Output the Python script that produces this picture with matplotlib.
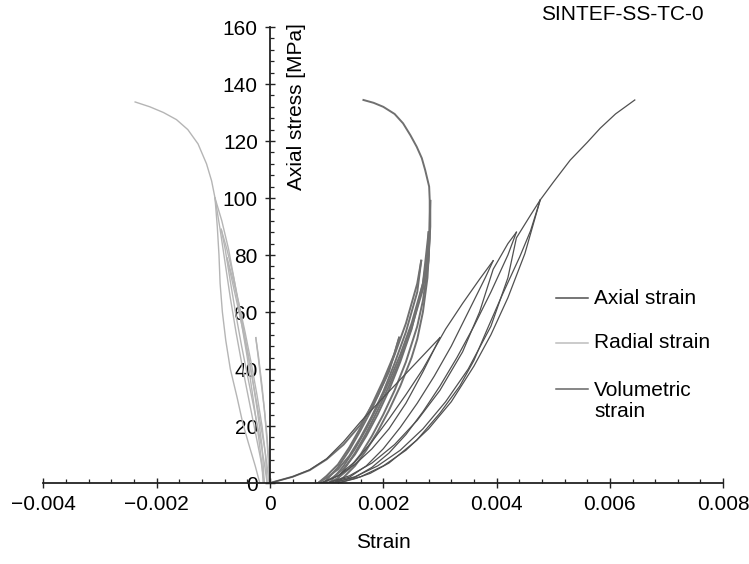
import matplotlib
matplotlib.use('Agg')
import matplotlib.pyplot as plt
from matplotlib.lines import Line2D
from matplotlib.ticker import MultipleLocator

plt.rcParams['font.family'] = ['Liberation Sans', 'DejaVu Sans']

# ---- data: (strain, axial stress MPa) ----
# axial strain, loading / unloading cycles
axial_load1 = [(0, 0), (0.0004, 2.2), (0.0007, 4.6), (0.001, 8.5), (0.0013, 14.5), (0.0016, 21.5),
               (0.002, 30), (0.0025, 40.5), (0.003, 51)]
axial_unload1 = [(0.003, 51), (0.0029, 47), (0.0027, 40), (0.0024, 31), (0.0021, 22.5), (0.0018, 14.5),
                 (0.0015, 7.5), (0.0012, 2.5), (0.0009, 0)]
axial_load2 = [(0.0009, 0), (0.0012, 2.5), (0.0015, 6.5), (0.0018, 12), (0.0021, 19), (0.0024, 28),
               (0.0027, 39), (0.0029, 47), (0.0031, 54), (0.0034, 63), (0.0037, 71.5), (0.00394, 78)]
axial_unload2 = [(0.00394, 78), (0.0038, 72), (0.0035, 60), (0.0032, 48), (0.0029, 37.5), (0.0026, 28),
                 (0.0023, 19.5), (0.002, 12), (0.0017, 6), (0.0014, 2), (0.001, 0)]
axial_load3 = [(0.001, 0), (0.0014, 2.5), (0.0018, 7), (0.0022, 13.5), (0.0026, 22), (0.003, 32.5),
               (0.0034, 46), (0.0037, 60), (0.00394, 75), (0.0042, 84), (0.00435, 88)]
axial_unload3 = [(0.00435, 88), (0.0042, 80), (0.0039, 67), (0.0036, 55), (0.0033, 44), (0.003, 34),
                 (0.0027, 25), (0.0024, 17), (0.0021, 10.5), (0.0018, 5.5), (0.0015, 2), (0.0011, 0)]
axial_load4 = [(0.0011, 0), (0.0015, 2.2), (0.0019, 6), (0.0023, 11.5), (0.0027, 19), (0.0031, 28.5),
               (0.0035, 40), (0.0039, 55), (0.0042, 72), (0.00435, 86), (0.0046, 94), (0.00477, 99.3)]
axial_unload4 = [(0.00477, 99.3), (0.0046, 88.5), (0.00441, 79.4), (0.0041, 66), (0.00383, 53.7),
                 (0.0036, 43), (0.00335, 34), (0.003, 24.5), (0.00259, 15), (0.0021, 7),
                 (0.00177, 3.4), (0.0015, 1.5), (0.0012, 0)]
axial_final = [(0.0012, 0), (0.0016, 2.2), (0.002, 6), (0.0024, 11.5), (0.0028, 19), (0.0032, 28.5),
               (0.0036, 41), (0.0039, 52), (0.0042, 65), (0.0045, 80.5), (0.00477, 99.3),
               (0.005, 105.5), (0.0053, 113.3), (0.0056, 119.5), (0.00583, 124.5), (0.0061, 129.5),
               (0.00644, 134.4)]

# radial strain
radial_load1 = [(0, 0), (-0.00002, 8), (-0.00005, 16), (-0.0001, 26), (-0.00016, 36), (-0.0002, 43),
                (-0.00025, 51)]
radial_unload1 = [(-0.00025, 51), (-0.0002, 44), (-0.00014, 34), (-0.00009, 24), (-0.00005, 14),
                  (-0.00002, 5), (-0.00002, 0)]
radial_load2 = [(-0.00002, 0), (-0.00005, 6), (-0.0001, 13), (-0.00017, 21), (-0.00026, 31),
                (-0.00036, 42), (-0.00047, 53), (-0.00058, 63), (-0.00068, 72), (-0.00076, 79)]
radial_unload2 = [(-0.00076, 79), (-0.00066, 72), (-0.00055, 63), (-0.00044, 53), (-0.00033, 42),
                  (-0.00023, 31), (-0.00014, 20), (-0.00008, 10), (-0.00005, 0)]
radial_load3 = [(-0.00005, 0), (-0.0001, 7), (-0.00017, 15), (-0.00027, 25), (-0.00038, 36),
                (-0.0005, 48), (-0.00061, 60), (-0.00071, 72), (-0.00079, 82), (-0.00086, 89)]
radial_unload3 = [(-0.00086, 89), (-0.00076, 82), (-0.00065, 73), (-0.00054, 62), (-0.00043, 50),
                  (-0.00032, 38), (-0.00022, 25), (-0.00014, 13), (-0.0001, 0)]
radial_load4 = [(-0.0001, 0), (-0.00016, 8), (-0.00025, 17), (-0.00036, 28), (-0.00048, 40),
                (-0.0006, 53), (-0.0007, 65), (-0.00079, 77), (-0.00088, 89), (-0.00097, 100)]
radial_unload4 = [(-0.00097, 100), (-0.00085, 92), (-0.00073, 82), (-0.00062, 70), (-0.00051, 57),
                  (-0.0004, 44), (-0.0003, 30), (-0.0002, 16), (-0.00014, 6), (-0.00012, 0)]
radial_final = [(-0.00018, 0), (-0.00026, 6), (-0.00038, 14), (-0.00048, 21), (-0.00058, 30),
                (-0.0007, 40), (-0.00078, 50), (-0.00084, 60), (-0.00088, 70), (-0.0009, 80),
                (-0.00093, 90), (-0.00097, 100), (-0.00103, 106), (-0.00112, 112), (-0.00127, 119),
                (-0.00145, 124), (-0.00165, 127.5), (-0.00188, 130), (-0.00212, 132), (-0.00238, 133.7)]

# volumetric strain
vol_load1 = [(0, 0), (0.0004, 2.2), (0.0007, 4.5), (0.001, 8.3), (0.0013, 13.5), (0.0016, 20.5),
             (0.0019, 30.5), (0.0021, 39), (0.00228, 51)]
vol_unload1 = [(0.00228, 51), (0.0022, 45.5), (0.002, 36), (0.0018, 27.5), (0.0016, 19.5), (0.0014, 12.5),
               (0.0012, 6.5), (0.001, 2.5), (0.00085, 0)]
vol_load2 = [(0.00085, 0), (0.001, 1.8), (0.0012, 4.8), (0.0014, 9.5), (0.0016, 16), (0.0018, 23.5),
             (0.002, 32), (0.0022, 42), (0.0024, 53), (0.0026, 67), (0.00267, 78)]
vol_unload2 = [(0.00267, 78), (0.0026, 70), (0.0024, 56), (0.0022, 45), (0.002, 35), (0.0018, 26),
               (0.0016, 18.5), (0.0014, 11.5), (0.0012, 5.5), (0.00095, 0)]
vol_load3 = [(0.00095, 0), (0.0011, 1.8), (0.0013, 5), (0.0015, 10), (0.0017, 16.5), (0.0019, 24),
             (0.0021, 32.5), (0.0023, 42.5), (0.0025, 54), (0.0027, 70), (0.0028, 88)]
vol_unload3 = [(0.0028, 88), (0.00278, 80), (0.0027, 70), (0.0025, 56), (0.0023, 45), (0.0021, 35.5),
               (0.0019, 27), (0.0017, 19), (0.0015, 12), (0.0013, 6), (0.00105, 0)]
vol_load4 = [(0.00105, 0), (0.0012, 1.8), (0.0014, 5), (0.0016, 10), (0.0018, 16.5), (0.002, 24),
             (0.0022, 32.5), (0.0024, 42.5), (0.0026, 55), (0.0027, 64), (0.0028, 78), (0.00283, 99)]
vol_unload4 = [(0.00283, 99), (0.00283, 90), (0.0028, 80), (0.0027, 68), (0.0025, 54.5), (0.0023, 43.5),
               (0.0021, 34), (0.0019, 25.5), (0.0017, 17.5), (0.0015, 10.5), (0.0013, 4.5), (0.00115, 0)]
vol_final = [(0.00115, 0), (0.0013, 2), (0.0015, 6), (0.0017, 11.5), (0.0019, 18), (0.0021, 25.5),
             (0.0023, 34), (0.0025, 44), (0.0026, 50.5), (0.0027, 60), (0.00278, 72), (0.00282, 86),
             (0.00282, 99.3), (0.00281, 104), (0.00274, 109.8), (0.00268, 114), (0.00259, 118),
             (0.00248, 122), (0.00235, 126.2), (0.0022, 129.5), (0.002, 132), (0.00183, 133.4),
             (0.00165, 134.4)]

axial_paths = [axial_load1, axial_unload1, axial_load2, axial_unload2, axial_load3,
               axial_unload3, axial_load4, axial_unload4, axial_final]
radial_paths = [radial_load1, radial_unload1, radial_load2, radial_unload2, radial_load3,
                radial_unload3, radial_load4, radial_unload4, radial_final]
vol_paths = [vol_load1, vol_unload1, vol_load2, vol_unload2, vol_load3,
             vol_unload3, vol_load4, vol_unload4, vol_final]

xtick_vals = [-0.004, -0.002, 0, 0.002, 0.004, 0.006, 0.008]
xtick_labels = ['\u22120.004', '\u22120.002', '0', '0.002', '0.004', '0.006', '0.008']
ytick_vals = [0, 20, 40, 60, 80, 100, 120, 140, 160]

axial_col = '#505050'
radial_col = '#b5b5b5'
vol_col = '#707070'

fig = plt.figure(figsize=(7.49, 5.64), dpi=100)
ax = fig.add_axes([0.0579, 0.1436, 0.9076, 0.8085])

for p in radial_paths:
    xs, ys = zip(*p)
    ax.plot(xs, ys, color=radial_col, lw=1.0)
for p in vol_paths:
    xs, ys = zip(*p)
    ax.plot(xs, ys, color=vol_col, lw=1.4)
for p in axial_paths:
    xs, ys = zip(*p)
    ax.plot(xs, ys, color=axial_col, lw=0.9)

ax.set_xlim(-0.004, 0.008)
ax.set_ylim(0, 160)

ax.spines['left'].set_position(('data', 0))
ax.spines['bottom'].set_position(('data', 0))
ax.spines['top'].set_visible(False)
ax.spines['right'].set_visible(False)
for s in ['left', 'bottom']:
    ax.spines[s].set_linewidth(1.3)
    ax.spines[s].set_color('#222222')

ax.set_xticks(xtick_vals)
ax.set_xticklabels(xtick_labels)
ax.set_yticks(ytick_vals)
ax.set_yticklabels([str(v) for v in ytick_vals])
ax.xaxis.set_minor_locator(MultipleLocator(0.0004))
ax.yaxis.set_minor_locator(MultipleLocator(4))
ax.tick_params(which='major', direction='inout', length=7.5, width=1.0, color='#222222',
               labelsize=15, pad=5)
ax.tick_params(which='minor', direction='in', length=2.8, width=0.9, color='#222222')

# axis titles
ax.text(0.373, 0.825, 'Axial stress [MPa]', transform=ax.transAxes, rotation=90,
        ha='center', va='center', fontsize=15)
fig.text(0.5114, 0.039, 'Strain', ha='center', va='center', fontsize=15)
fig.text(0.8304, 0.974, 'SINTEF-SS-TC-0', ha='center', va='center', fontsize=15)

# legend drawn by hand so the handle sits on the first line of each label
leg_labels = ['Axial strain', 'Radial strain', 'Volumetric\nstrain']
leg_colors = [axial_col, '#bdbdbd', '#666666']
leg_y = [298, 343, 389]
for lab, col, py in zip(leg_labels, leg_colors, leg_y):
    yf = 1 - py / 564
    fig.add_artist(Line2D([555.6 / 749, 588 / 749], [yf, yf], transform=fig.transFigure,
                          color=col, lw=1.1))
    if '\n' in lab:
        fig.text(594 / 749, 1 - (py + 11.75) / 564, lab, ha='left', va='center',
                 fontsize=15, linespacing=1.13)
    else:
        fig.text(594 / 749, yf, lab, ha='left', va='center', fontsize=15)

fig.savefig('out.png', dpi=100)
